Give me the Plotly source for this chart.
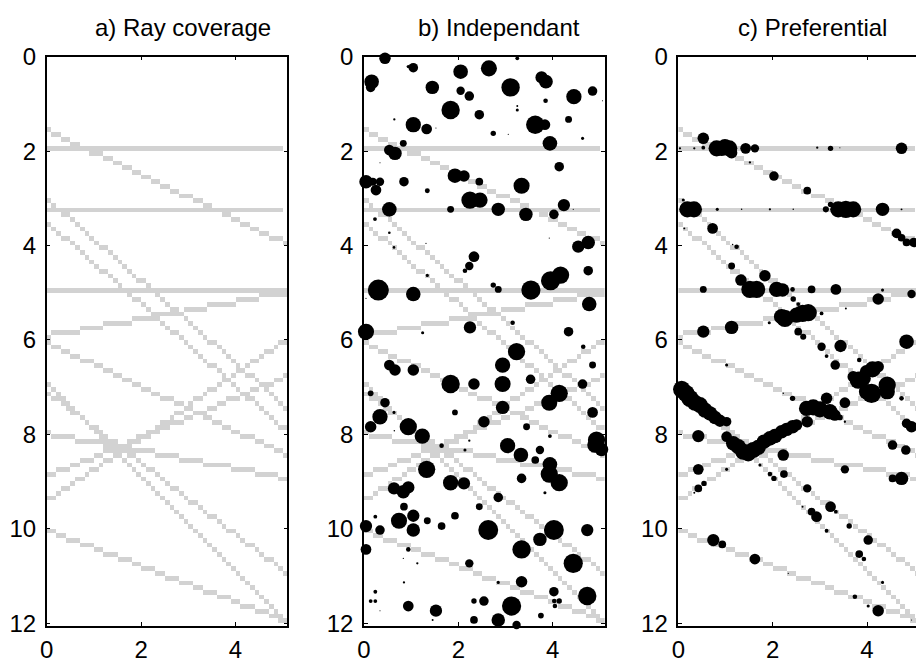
import numpy as np
import plotly.graph_objects as go

# ---------------- ray geometry (depth vs. distance) ----------------
ray_x0 = [0, 0, 0, 0, 0, 0, 0, 0, 0, 0, 0, 0, 0, 0]
ray_y0 = [1.55, 1.95, 3.25, 3.00, 3.50, 4.95, 5.92, 6.05, 7.10, 6.95, 7.98, 9.43, 8.90, 10.03]
ray_x1 = [5.1, 5.0, 5.0, 5.1, 5.1, 5.1, 5.1, 5.1, 5.1, 4.95, 5.1, 5.1, 5.1, 5.1]
ray_y1 = [3.97, 1.95, 3.25, 7.45, 7.94, 4.95, 5.00, 8.45, 10.95, 11.80, 8.93, 5.98, 6.77, 11.97]

# ---------------- b) independent samples ----------------
b_x = [0.445, 1.045, 0.94, 2.048, 2.648, 3.249, 0.162, 0.141, 1.448, 2.048, 2.232, 3.107, 3.764, 3.856,
       4.449, 4.845, 3.849, 3.249, 3.249, 1.836, 2.444, 1.045, 1.328, 0.643, 3.63, 3.835, 4.336, 2.74,
       3.941, 4.633, 3.058, 0.833, 0.537, 0.657, 4.138, 1.928, 2.119, 0.042, 0.339, 0.254, 0.184, 0.847,
       2.444, 3.34, 1.342, 1.836, 2.246, 2.458, 2.846, 0.537, 3.432, 4.025, 4.237, 0.233, 0.537, 0.636,
       4.541, 4.753, 2.331, 2.232, 2.14, 1.342, 2.74, 2.846, 0.304, 1.045, 3.538, 3.955, 4.167, 4.753,
       4.774, 0.042, 2.246, 3.15, 4.336, 1.243, 0.339, 1.314, 3.927, 5.056, 4.435, 1.525, 0.042,
       3.234, 0.537, 0.657, 1.045, 2.938, 1.836, 2.331, 2.938, 3.531, 4.633, 4.845, 4.647, 4.138, 3.927,
       0.141, 0.445, 0.339, 0.141, 0.636, 1.928, 2.938, 4.845, 2.542, 0.939, 1.236, 3.446, 3.941, 0.643,
       4.929, 5.035, 4.894, 1.645, 2.14, 2.232, 3.044, 3.326, 3.729, 3.63, 3.941, 3.927, 4.138, 1.328,
       3.34, 1.836, 2.119, 0.636, 0.833, 0.939, 2.846, 3.835, 0.847, 2.444, 0.24, 0.742, 1.045, 1.045,
       1.342, 1.645, 1.928, 0.042, 0.339, 2.634, 3.729, 4.025, 4.732, 0.042, 0.939, 3.34, 2.232, 4.435,
       1.13, 3.34, 2.846, 0.847, 0.24, 4.025, 4.732, 0.141, 0.24, 0.939, 1.525, 2.331, 2.542, 3.128,
       4.032, 4.138, 4.047, 3.75, 2.331, 2.846, 3.234, 0.339, 0.833, 1.455]
b_y = [0.035, 0.233, 0.21, 0.318, 0.247, 0.035, 0.53, 0.65, 0.65, 0.72, 0.833, 0.65, 0.438, 0.53,
       0.847, 0.727, 0.932, 1.045, 1.13, 1.13, 1.229, 1.441, 1.532, 1.328, 1.441, 1.441, 1.328, 1.624,
       1.836, 1.73, 1.645, 1.836, 1.977, 2.048, 2.331, 2.521, 2.528, 2.648, 2.648, 2.825, 2.648, 2.648,
       2.648, 2.733, 2.839, 3.234, 3.037, 3.037, 3.234, 3.234, 3.34, 3.34, 3.143, 3.439, 3.729, 4.04,
       4.025, 3.934, 4.237, 4.435, 4.534, 4.633, 4.838, 4.929, 4.944, 5.028, 4.944, 4.746, 4.626, 4.534,
       5.24, 5.826, 5.734, 5.636, 5.826, 5.847, 2.246, 3.955, 3.842, 0.932, 3.234, 1.511, 5.12,
       6.249, 6.532, 6.638, 6.638, 6.532, 6.934, 6.934, 6.934, 6.835, 6.934, 6.532, 6.144, 7.132, 7.33,
       7.132, 7.33, 7.627, 7.839, 7.535, 7.535, 7.429, 7.535, 7.733, 7.839, 8.037, 7.839, 8.037, 7.923,
       8.121, 8.319, 8.227, 8.24, 8.332, 8.135, 8.24, 8.438, 8.332, 8.544, 8.636, 8.841, 9.025, 8.742,
       8.933, 9.025, 9.039, 9.145, 9.216, 9.124, 9.336, 9.237, 9.533, 9.533, 9.745, 9.83, 9.724, 10.027,
       9.83, 9.943, 9.724, 9.943, 10.027, 10.027, 10.225, 10.027, 10.027, 10.437, 10.437, 10.437, 10.733, 10.733,
       10.733, 11.122, 11.136, 11.136, 11.334, 11.334, 11.426, 11.531, 11.531, 11.637, 11.736, 11.531, 11.531, 11.637,
       11.531, 11.531, 11.637, 11.84, 11.932, 11.932, 12.038, 11.736, 10.628, 11.932]
b_mag = [10, 8.3, 3, 12.7, 14, 3.3, 12.7, 8.3, 11.7, 7.3, 8.3, 16, 10.7, 12,
         13.3, 8.3, 4, 1.7, 2.7, 16, 8.3, 13.3, 9.3, 2, 16, 9.3, 6, 4.7,
         12.7, 2.7, 1, 6, 9.3, 11.7, 8.3, 12.7, 10, 11.7, 7.3, 9.3, 7, 8.3,
         6.7, 14, 4.3, 6, 15, 13.3, 11.7, 12.7, 11.7, 8.3, 10.7, 3.3, 2.3, 2.3,
         10.7, 11.7, 9.3, 7.3, 4, 2.7, 4.7, 6, 18.3, 12.7, 16.7, 16.7, 15, 8.3,
         12.7, 14, 10.7, 4, 8.3, 2.7, 1, 1, 1, 1, 1, 1, 1,
         15, 9.3, 10, 10, 13.3, 16, 10, 14, 8.3, 8.3, 6, 4, 15, 14,
         5, 8.3, 13.3, 10, 2.7, 5, 11.7, 9.3, 10, 15, 13.3, 6, 3.3, 1.3,
         15, 11.7, 13.3, 4, 2.7, 2, 13.3, 12.7, 7.3, 6.7, 12.7, 15, 15, 15,
         8.3, 13.3, 10.7, 10.7, 11.7, 10.7, 8.3, 2.7, 6.7, 6, 3.3, 14, 10.7, 11.7,
         6, 6.7, 6.7, 10.7, 8.3, 17.3, 11.7, 17.3, 10.7, 9.3, 4, 16, 7.3, 16.7,
         2, 10, 2.7, 2, 3.3, 8.3, 16, 3.3, 3.3, 9.3, 10.7, 4.7, 8.3, 16.7,
         4, 4.7, 4, 5, 6.7, 11.7, 7.3, 1, 1, 1.7]

# ---------------- c) preferential samples (along rays) ----------------
c_x = [0.53, 0.035, 0.339, 0.53, 0.812, 0.918, 0.989, 1.08, 1.13, 1.427, 1.624, 1.518, 2.945, 3.227,
       3.425, 4.732, 2.027, 2.733, 3.227, 3.128, 3.39, 3.552, 3.708, 4.329, 4.732, 0.191, 0.332, 0.106,
       0.826, 1.342, 1.942, 2.436, 0.727, 0.127, 1.236, 1.151, 4.626, 4.732, 4.838, 4.993, 1.13, 1.328,
       1.836, 1.518, 1.66, 2.083, 2.21, 2.422, 2.436, 0.53, 2.825, 3.34, 4.329, 4.237, 4.944, 3.552,
       2.542, 2.634, 2.754, 2.507, 2.26, 2.189, 3.037, 1.928, 1.13, 0.53, 2.542, 2.648,
       4.838, 3.037, 3.439, 3.143, 3.835, 3.326, 1.024, 4.117, 3.99, 4.237, 3.814, 3.919, 3.708, 4.428,
       4.428, 4.096, 3.99, 4.732, 2.225, 2.422,
       0.071, 0.162, 0.247, 0.353, 0.459, 0.565, 0.671, 0.777, 0.883, 1.024,
       3.143, 3.531, 2.719, 2.86, 3.001, 3.213, 3.319, 3.425, 2.733, 3.531, 4.838, 4.944,
       1.024, 1.165, 1.271, 1.377, 1.483, 1.589, 1.695, 1.815, 1.942, 2.048, 2.189, 2.295, 2.422, 2.507,
       0.424, 2.225, 4.541, 4.823, 0.424, 1.024, 1.73, 1.942, 2.027, 2.239, 3.531, 4.541, 4.732, 0.424,
       0.544, 0.339, 2.733, 3.227, 3.34, 2.634, 2.825, 2.931, 3.143, 3.623, 4.025, 0.742, 0.932, 1.624,
       3.835, 3.934, 2.331, 4.329, 3.743, 4.025, 4.237, 4.944]
c_y = [1.73, 1.942, 1.942, 1.928, 1.942, 1.942, 1.907, 1.942, 2.034, 1.942, 1.942, 2.239, 1.928, 1.942,
       1.928, 1.942, 2.528, 2.839, 3.129, 3.234, 3.234, 3.234, 3.234, 3.234, 3.234, 3.234, 3.234, 3.037,
       3.234, 3.234, 3.234, 3.234, 3.637, 3.637, 4.025, 3.976, 3.743, 3.835, 3.934, 3.934, 4.435, 4.732,
       4.64, 4.929, 4.929, 4.929, 4.944, 4.929, 5.134, 4.929, 4.929, 4.929, 4.944, 5.134, 5.028, 5.332,
       5.24, 5.438, 5.424, 5.473, 5.544, 5.508, 5.438, 5.636, 5.734, 5.826, 5.826, 5.932,
       6.037, 6.143, 6.129, 6.341, 6.426, 6.532, 6.532, 6.624, 6.674, 6.567, 6.85, 6.815, 6.779, 6.956,
       7.097, 7.132, 7.097, 7.238, 7.132, 7.238,
       7.047, 7.132, 7.238, 7.33, 7.38, 7.486, 7.557, 7.642, 7.712, 7.733,
       7.238, 7.33, 7.45, 7.429, 7.472, 7.521, 7.592, 7.642, 7.733, 7.733, 7.768, 7.839,
       8.05, 8.191, 8.262, 8.368, 8.403, 8.332, 8.276, 8.156, 8.085, 8.036, 7.944, 7.895, 7.839, 7.803,
       8.036, 8.439, 8.227, 8.332, 8.742, 8.742, 8.65, 8.841, 8.933, 8.841, 8.742, 8.933, 8.933, 9.145,
       9.039, 9.237, 9.145, 9.533, 9.639, 9.533, 9.639, 9.745, 10.042, 9.943, 10.24, 10.24, 10.331, 10.642,
       10.536, 10.642, 10.946, 11.136, 11.44, 11.637, 11.736, 11.932]
c_mag = [10, 2, 2, 3.3, 14, 13.3, 13.3, 14, 10, 9.3, 7.3, 2, 2, 4.7,
         1, 10, 8.3, 6.7, 4.7, 5.3, 14, 15, 14, 11.7, 1.7, 14, 14, 2.7,
         2.7, 1.3, 2, 1.3, 9.3, 1.7, 4, 1.3, 8.3, 6.7, 6.7, 8.3, 6, 10,
         10, 15, 15, 13.3, 11.7, 4, 4.7, 6, 6.7, 9.3, 2.7, 10, 7.3, 1.7,
         3.3, 15, 15, 13.3, 15, 13.3, 3.3, 2.7, 11.7, 10.7, 6.7, 5.3,
         12.7, 7.3, 10.7, 3.3, 4, 8.3, 2.7, 14, 11.7, 10, 15, 13.3, 10, 15,
         13.3, 16.7, 13.3, 4, 1.3, 4.7,
         15, 15, 15, 14, 14, 13.3, 12.7, 11.7, 10.7, 8.3,
         10, 9.3, 13.3, 14, 14, 13.3, 10, 5, 10, 2, 8.3, 10,
         9.3, 12.7, 13.3, 14, 14, 14, 13.3, 12.7, 12.7, 12.7, 11.7, 11.7, 11.7, 10,
         10.7, 10, 8.3, 8.3, 9.3, 2.7, 2.7, 4, 4.7, 6.7, 7.3, 6.7, 11.7, 6.7,
         4.7, 1.7, 7.3, 9.3, 3.3, 1.7, 6.7, 9.3, 3.3, 4.7, 8.3, 10.7, 6.7, 9.3,
         6.7, 4, 1, 2.7, 4, 2.7, 10, 1]

titles = ["a) Ray coverage", "b) Independant", "c) Preferential"]
x_ticks = [0, 2, 4]
y_ticks = [0, 2, 4, 6, 8, 10, 12]

# ---------------- rasterise rays on a 0.1 grid ----------------
cell = 0.1
ncol, nrow = 51, 121
xc = np.arange(ncol) * cell + cell / 2
yc = np.arange(nrow) * cell + cell / 2
z = np.full((nrow, ncol), np.nan)
for x0, y0, x1, y1 in zip(ray_x0, ray_y0, ray_x1, ray_y1):
    for j, xx in enumerate(xc):
        if x0 <= xx <= x1:
            yy = y0 + (y1 - y0) * (xx - x0) / (x1 - x0)
            i = int(np.floor(yy / cell))
            if 0 <= i < nrow:
                z[i, j] = 1.0

FONT = "Liberation Sans, Arial, Helvetica, sans-serif"
GRAY = "#d2d2d2"
SIZE_SCALE = 1.15

fig = go.Figure()
for k in range(3):
    ax = "" if k == 0 else str(k + 1)
    fig.add_trace(go.Heatmap(x=xc, y=yc, z=z, colorscale=[[0, GRAY], [1, GRAY]],
                             showscale=False, hoverinfo="skip", zsmooth=False,
                             xaxis="x" + ax, yaxis="y" + ax))

fig.add_trace(go.Scatter(x=b_x, y=b_y, mode="markers", xaxis="x2", yaxis="y2",
                         marker=dict(color="black", opacity=1,
                                     size=[m * SIZE_SCALE for m in b_mag], line=dict(width=0)),
                         cliponaxis=False, showlegend=False))
fig.add_trace(go.Scatter(x=c_x, y=c_y, mode="markers", xaxis="x3", yaxis="y3",
                         marker=dict(color="black", opacity=1,
                                     size=[m * SIZE_SCALE for m in c_mag], line=dict(width=0)),
                         cliponaxis=False, showlegend=False))

W, H = 916, 666
left_px = [46.7, 364.0, 678.3]
pw = 240.6
top_px, bot_px = 56.7, 626.0
ydom = [1 - bot_px / H, 1 - top_px / H]

axis_common = dict(showline=True, linecolor="black", linewidth=1.5, ticks="inside",
                   ticklen=4, tickwidth=1, tickcolor="black", showgrid=False, zeroline=False,
                   automargin=False,
                   tickfont=dict(family=FONT, size=24, color="black"))

layout = dict(width=W, height=H, margin=dict(l=0, r=0, t=0, b=0, autoexpand=False),
              paper_bgcolor="white", plot_bgcolor="white", showlegend=False,
              font=dict(family=FONT, size=24, color="black"))
for k in range(3):
    ax = "" if k == 0 else str(k + 1)
    l = left_px[k]
    r = min(l + pw, W)
    xmax = 5.1 * (r - l) / pw
    layout["xaxis" + ax] = dict(axis_common, domain=[l / W, r / W], range=[0, xmax],
                                tickvals=x_ticks, anchor="y" + ax, mirror="ticks",
                                ticklabelstandoff=1)
    layout["yaxis" + ax] = dict(axis_common, domain=ydom, range=[12.06, 0],
                                tickvals=y_ticks, anchor="x" + ax,
                                mirror=("ticks" if k < 2 else False),
                                ticklabelstandoff=4)
fig.update_layout(**layout)

title_cx = [182.5, 499.0, 812.5]
for k in range(3):
    fig.add_annotation(x=title_cx[k] / W, y=1 - 27 / H, xref="paper", yref="paper",
                       text=titles[k], showarrow=False, xanchor="center", yanchor="middle",
                       font=dict(family=FONT, size=24, color="black"))

fig.write_html("out.html")
